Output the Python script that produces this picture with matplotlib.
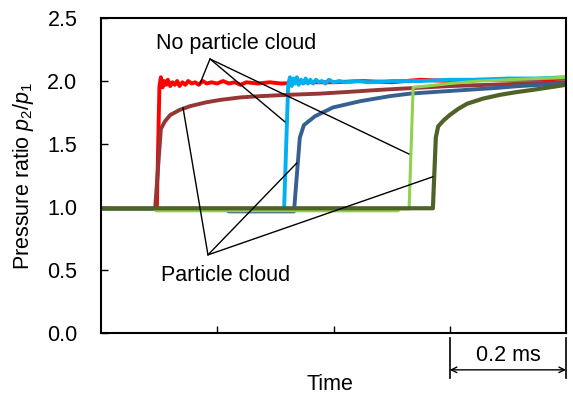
import matplotlib
matplotlib.use("Agg")
import matplotlib.pyplot as plt

plt.rcParams['font.family'] = ['Liberation Sans', 'DejaVu Sans']
plt.rcParams['mathtext.fontset'] = 'custom'
plt.rcParams['mathtext.rm'] = 'Liberation Sans'
plt.rcParams['mathtext.it'] = 'Liberation Sans:italic'

# 時間 [ms] と圧力比 p2/p1
red_t = [0.0, 0.096, 0.1005, 0.103, 0.106, 0.109, 0.112, 0.115, 0.119, 0.123, 0.127, 0.131,
         0.135, 0.140, 0.145, 0.150, 0.156, 0.162, 0.168, 0.175, 0.182, 0.19, 0.20, 0.21, 0.22,
         0.23, 0.24, 0.25, 0.27, 0.29, 0.31, 0.35, 0.40, 0.45, 0.50, 0.55, 0.60, 0.65, 0.70,
         0.75, 0.80]
red_v = [0.985, 0.985, 1.96, 2.03, 1.95, 2.00, 1.97, 2.01, 1.96, 1.99, 1.97, 2.00,
         1.96, 1.99, 1.97, 2.00, 1.98, 1.99, 1.97, 2.00, 1.98, 1.99, 1.98, 2.00, 1.98,
         1.99, 1.97, 1.99, 1.98, 1.99, 1.98, 1.99, 1.99, 2.00, 1.99, 2.01, 2.00, 2.01, 2.01,
         2.01, 2.02]

brown_t = [0.0, 0.093, 0.103, 0.110, 0.119, 0.135, 0.153, 0.18, 0.205, 0.24, 0.274, 0.32, 0.377,
           0.43, 0.48, 0.54, 0.60, 0.70, 0.80]
brown_v = [0.985, 0.985, 1.62, 1.68, 1.73, 1.77, 1.80, 1.83, 1.85, 1.87, 1.88, 1.89, 1.90,
           1.915, 1.93, 1.945, 1.96, 1.975, 1.99]

cyan_t = [0.0, 0.315, 0.322, 0.325, 0.328, 0.331, 0.334, 0.337, 0.340, 0.344, 0.348, 0.352,
          0.356, 0.360, 0.365, 0.370, 0.375, 0.380, 0.386, 0.392, 0.40, 0.41, 0.42, 0.44,
          0.46, 0.50, 0.55, 0.60, 0.65, 0.70, 0.75, 0.80]
cyan_v = [0.985, 0.985, 1.97, 2.03, 1.96, 2.02, 1.98, 2.03, 1.97, 2.01, 1.98, 2.02,
          1.98, 2.01, 1.98, 2.01, 1.99, 2.00, 1.98, 2.01, 1.99, 2.00, 1.99, 2.00,
          1.99, 2.00, 2.00, 2.01, 2.01, 2.02, 2.02, 2.03]

blue_t = [0.0, 0.213, 0.22, 0.332, 0.342, 0.349, 0.368, 0.399, 0.446, 0.497, 0.532, 0.58, 0.63,
          0.68, 0.72, 0.76, 0.80]
blue_v = [0.985, 0.985, 0.965, 0.965, 1.55, 1.65, 1.72, 1.79, 1.84, 1.88, 1.90, 1.915, 1.93,
          1.945, 1.96, 1.97, 1.98]

green_t = [0.0, 0.09, 0.095, 0.51, 0.515, 0.530, 0.537, 0.56, 0.60, 0.65, 0.70, 0.75, 0.80]
green_v = [0.985, 0.985, 0.97, 0.97, 0.985, 0.985, 1.95, 1.96, 1.98, 2.00, 2.01, 2.02, 2.03]

olive_t = [0.0, 0.571, 0.576, 0.580, 0.590, 0.600, 0.615, 0.630, 0.657, 0.686, 0.712, 0.743,
           0.772, 0.80]
olive_v = [0.99, 0.99, 1.55, 1.64, 1.69, 1.73, 1.78, 1.82, 1.86, 1.89, 1.91, 1.93, 1.95, 1.97]

fig = plt.figure(figsize=(5.73, 3.96), dpi=100)
ax = fig.add_axes([0.1763, 0.1591, 0.8115, 0.7954])

ax.plot(red_t, red_v, color="#FF0000", lw=2.8)
ax.plot(cyan_t, cyan_v, color="#00B0F0", lw=2.8)
ax.plot(brown_t, brown_v, color="#953735", lw=2.8)
ax.plot(blue_t, blue_v, color="#376092", lw=2.8)
ax.plot(green_t, green_v, color="#92D050", lw=2.2)
ax.plot(olive_t, olive_v, color="#4F6228", lw=3.0)

ax.set_xlim(0, 0.8)
ax.set_ylim(0, 2.5)
ax.set_xticks([0.2, 0.4, 0.6])
ax.set_xticklabels([])
ax.set_yticks([0, 0.5, 1.0, 1.5, 2.0, 2.5])
ax.set_yticklabels(["0.0", "0.5", "1.0", "1.5", "2.0", "2.5"])
ax.tick_params(direction="in", length=5, width=1, labelsize=15.5, pad=17)
for s in ax.spines.values():
    s.set_linewidth(1.5)

ax.set_ylabel(r"Pressure ratio $p_2/p_1$", fontsize=15.5)
ax.yaxis.set_label_coords(-0.139, 0.5)
ax.text(0.493, -0.165, "Time", transform=ax.transAxes, fontsize=15.5, ha="center", va="center")

# 注釈線
ax.text(0.232, 2.30, "No particle cloud", fontsize=15.5, ha="center", va="center")
for tx, ty in [(0.170, 1.976), (0.3166, 1.675), (0.530, 1.42)]:
    ax.annotate("", xy=(tx, ty), xytext=(0.1875, 2.175),
                arrowprops=dict(arrowstyle="-", lw=1.0, color="black", shrinkA=0, shrinkB=0))
ax.text(0.215, 0.46, "Particle cloud", fontsize=15.5, ha="center", va="center")
for tx, ty in [(0.141, 1.79), (0.337, 1.35), (0.571, 1.24)]:
    ax.annotate("", xy=(tx, ty), xytext=(0.184, 0.62),
                arrowprops=dict(arrowstyle="-", lw=1.0, color="black", shrinkA=0, shrinkB=0))

# スケールバー 0.2 ms
tr = ax.get_xaxis_transform()
ax.plot([0.6, 0.6], [-0.016, -0.143], color="black", lw=1.2, transform=tr, clip_on=False)
ax.plot([0.8, 0.8], [-0.016, -0.143], color="black", lw=1.2, transform=tr, clip_on=False)
ax.annotate("", xy=(0.6, -0.117), xytext=(0.8, -0.117), xycoords=tr, textcoords=tr,
            arrowprops=dict(arrowstyle="<->", lw=1.0, color="black", shrinkA=0, shrinkB=0))
ax.text(0.7, -0.073, "0.2 ms", transform=tr, fontsize=15.5, ha="center", va="center")

fig.savefig("out.png", dpi=100)
